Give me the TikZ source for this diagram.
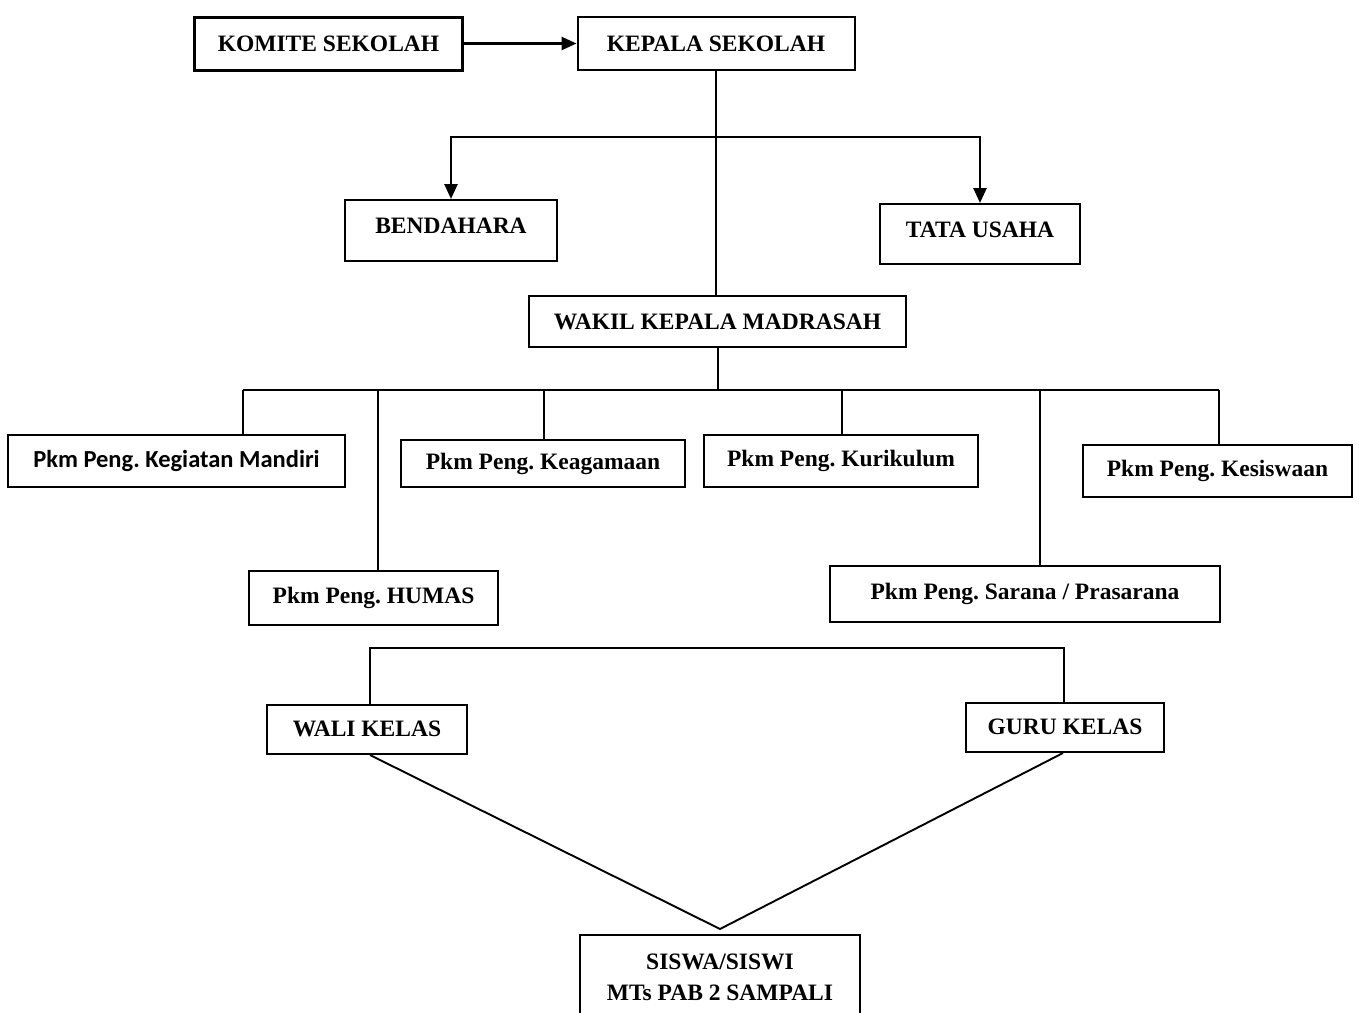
\documentclass[tikz,border=0pt]{standalone}
\usepackage{fontspec}
\setmainfont{Liberation Serif}
\newfontfamily\carlito{Carlito}
\usetikzlibrary{arrows.meta}
\frenchspacing
\begin{document}
\begin{tikzpicture}[x=1pt,y=-1pt,
  box/.style={draw, line width=2pt, rectangle, inner sep=0pt, align=center,
    font=\fontsize{23.5}{31}\selectfont\bfseries},
  conn/.style={line width=1.9pt},
  arr/.style={line width=2.6pt, -{Triangle[length=15pt,width=13pt]}}]
\useasboundingbox (0,0) rectangle (1359,1012);
\fill[white] (0,0) rectangle (1359,1012);

\node[box, line width=3pt, minimum width=268pt, minimum height=53pt] (komite) at (328.5,43.5) {KOMITE SEKOLAH};
\node[box, minimum width=277pt, minimum height=53pt] (kepala) at (716,43.5) {KEPALA SEKOLAH};
\node[box, minimum width=212pt, minimum height=61pt, text depth=9pt] (bend) at (451,230.5) {BENDAHARA};
\node[box, minimum width=200pt, minimum height=60pt, text depth=9pt] (tata) at (980,234) {TATA USAHA};
\node[box, minimum width=377pt, minimum height=51pt] (wakil) at (717.5,321.5) {WAKIL KEPALA MADRASAH};
\node[box, minimum width=337pt, minimum height=52pt, font=\carlito\fontsize{24.5}{28}\selectfont\bfseries] (km) at (176.5,461) {Pkm Peng. Kegiatan Mandiri};
\node[box, minimum width=284pt, minimum height=47pt] (kg) at (543,463.5) {Pkm Peng. Keagamaan};
\node[box, minimum width=274pt, minimum height=52pt] (kr) at (841,461) {Pkm Peng. Kurikulum};
\node[box, minimum width=269pt, minimum height=52pt] (ks) at (1217.5,471) {Pkm Peng. Kesiswaan};
\node[box, minimum width=249pt, minimum height=54pt] (hu) at (373.5,598) {Pkm Peng. HUMAS};
\node[box, minimum width=390pt, minimum height=56pt] (sp) at (1025,594) {Pkm Peng. Sarana / Prasarana};
\node[box, minimum width=200pt, minimum height=49pt, text depth=2pt] (wali) at (367,729.5) {WALI KELAS};
\node[box, minimum width=198pt, minimum height=49pt, text depth=2pt] (guru) at (1065,727.5) {GURU KELAS};
\node[box, minimum width=280pt, minimum height=85pt] (siswa) at (720,977.5) {SISWA/SISWI\\MTs PAB 2 SAMPALI};

% top
\draw[arr] (komite.east) -- (kepala.west);
\draw[conn] (kepala.south) -- (kepala.south |- wakil.north);
\coordinate (j1) at (716,137);
\draw[arr] (j1) -| (bend.north);
\draw[arr] (j1) -| (tata.north);

% middle row
\coordinate (j2) at (718,390);
\coordinate (hl) at (243,390);
\coordinate (hr) at (1219,390);
\draw[conn] ([xshift=0.5pt]wakil.south) -- ([xshift=0.5pt]wakil.south |- j2);
\draw[conn] (hl) -- (hr);
\draw[conn] (hl) -- (hl |- km.north);
\draw[conn] ([xshift=4.5pt]hu.north |- j2) -- ([xshift=4.5pt]hu.north);
\draw[conn] ([xshift=1pt]kg.north |- j2) -- ([xshift=1pt]kg.north);
\draw[conn] ([xshift=1pt]kr.north |- j2) -- ([xshift=1pt]kr.north);
\draw[conn] ([xshift=15pt]sp.north |- j2) -- ([xshift=15pt]sp.north);
\draw[conn] (hr) -- (hr |- ks.north);

% bottom
\draw[conn] ([xshift=3pt]wali.north) -- ++(0,-56) -| ([xshift=-1pt]guru.north);
\draw[conn] ([xshift=3pt]wali.south) -- ([yshift=5pt]siswa.north) -- ([xshift=-2pt]guru.south);
\end{tikzpicture}
\end{document}
